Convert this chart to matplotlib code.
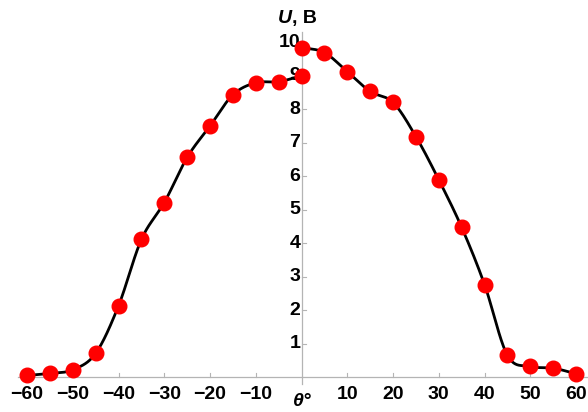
import numpy as np
import matplotlib
matplotlib.use("Agg")
import matplotlib.pyplot as plt

# measured points, angle in degrees, voltage in V
theta_left = [-60, -55, -50, -45, -40, -35, -30, -25, -20, -15, -10, -5, 0]
u_left = [0.05, 0.11, 0.22, 0.71, 2.13, 4.11, 5.21, 6.56, 7.50, 8.43, 8.79, 8.82, 9.00]
theta_right = [0, 5, 10, 15, 20, 25, 30, 35, 40, 45, 50, 55, 60]
u_right = [9.84, 9.69, 9.12, 8.53, 8.20, 7.18, 5.89, 4.47, 2.76, 0.65, 0.32, 0.27, 0.10]

x_ticks = [-60, -50, -40, -30, -20, -10, 10, 20, 30, 40, 50, 60]
y_ticks = [1, 2, 3, 4, 5, 6, 7, 8, 9, 10]

plt.rcParams["font.family"] = ["Liberation Sans", "DejaVu Sans"]


def smooth(xs, ys, n=40):
    # cubic hermite through the points (catmull-rom tangents)
    xs = np.asarray(xs, float)
    ys = np.asarray(ys, float)
    m = np.gradient(ys, xs)
    out_x, out_y = [], []
    for i in range(len(xs) - 1):
        h = xs[i + 1] - xs[i]
        t = np.linspace(0, 1, n, endpoint=False)
        h00 = 2 * t**3 - 3 * t**2 + 1
        h10 = t**3 - 2 * t**2 + t
        h01 = -2 * t**3 + 3 * t**2
        h11 = t**3 - t**2
        out_x.append(xs[i] + t * h)
        out_y.append(h00 * ys[i] + h10 * h * m[i] + h01 * ys[i + 1] + h11 * h * m[i + 1])
    out_x.append([xs[-1]])
    out_y.append([ys[-1]])
    return np.concatenate(out_x), np.concatenate(out_y)


fig = plt.figure(figsize=(5.88, 4.12), dpi=100)
ax = fig.add_axes([0, 0, 1, 1])
ax.set_xlim(-65.9, 62.6)
ax.set_ylim(-1.04, 11.26)
ax.axis("off")

axis_color = "#b4b4b4"
ax.plot([-62, 62.6], [0, 0], color=axis_color, linewidth=0.9, zorder=1)
ax.plot([0, 0], [-0.2, 10.3], color=axis_color, linewidth=0.9, zorder=1)

for xt in x_ticks:
    ax.plot([xt, xt], [0, 0.12], color=axis_color, linewidth=0.8, zorder=1)
    ax.text(xt, -0.25, f"{xt}".replace("-", "\u2212"), ha="center", va="top",
            fontsize=14, fontweight="bold")
for yt in y_ticks:
    ax.plot([0, 0.9], [yt, yt], color=axis_color, linewidth=0.8, zorder=1)
    ax.text(-0.3, yt, str(yt), ha="right", va="center", fontsize=14, fontweight="bold")

lx, ly = smooth(theta_left, u_left)
rx, ry = smooth(theta_right, u_right)
ax.plot(lx, ly, color="black", linewidth=2, zorder=2)
ax.plot(rx, ry, color="black", linewidth=2, zorder=2)

ax.plot(theta_left, u_left, "o", color="#ff0000", markersize=10.5, zorder=3)
ax.plot(theta_right, u_right, "o", color="#ff0000", markersize=10.5, zorder=3)

fig.text(0.497, 0.955, "U", ha="right", va="center", fontsize=14,
         fontweight="bold", fontstyle="italic")
fig.text(0.497, 0.955, ", B", ha="left", va="center", fontsize=14, fontweight="bold")
fig.text(0.514, 0.004, "\u03b8\u00b0", ha="center", va="bottom", fontsize=14,
         fontweight="bold", fontstyle="italic")

fig.savefig("out.png", dpi=100)
